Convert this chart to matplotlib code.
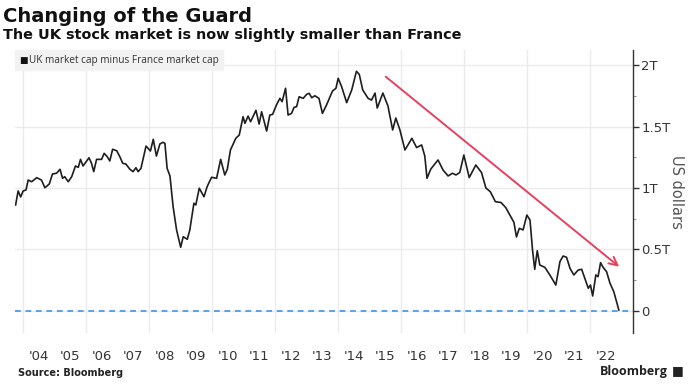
import matplotlib.pyplot as plt
from matplotlib.ticker import FixedLocator, FuncFormatter, MultipleLocator

# UK market cap minus France market cap, trillions of US dollars (decimal years)
years = [
    2003.76, 2003.84, 2003.92, 2004.00, 2004.09, 2004.16, 2004.27, 2004.43, 2004.58, 2004.69,
    2004.83, 2004.93, 2005.06, 2005.17, 2005.25, 2005.32, 2005.43, 2005.54, 2005.66, 2005.75,
    2005.82, 2005.90, 2006.09, 2006.17, 2006.24, 2006.33, 2006.49, 2006.57, 2006.67, 2006.75,
    2006.84, 2006.97, 2007.07, 2007.16, 2007.26, 2007.39, 2007.49, 2007.58, 2007.65, 2007.74,
    2007.90, 2008.04, 2008.13, 2008.23, 2008.34, 2008.44, 2008.50, 2008.57, 2008.66, 2008.76,
    2008.87, 2009.00, 2009.08, 2009.21, 2009.29, 2009.42, 2009.48, 2009.59, 2009.74, 2009.84,
    2009.98, 2010.14, 2010.27, 2010.40, 2010.48, 2010.58, 2010.75, 2010.86, 2010.98, 2011.04,
    2011.14, 2011.22, 2011.39, 2011.49, 2011.57, 2011.73, 2011.83, 2011.92, 2012.04, 2012.15,
    2012.22, 2012.33, 2012.41, 2012.52, 2012.60, 2012.68, 2012.76, 2012.89, 2013.00, 2013.08,
    2013.16, 2013.26, 2013.39, 2013.50, 2013.63, 2013.82, 2013.93, 2014.00, 2014.11, 2014.27,
    2014.43, 2014.58, 2014.67, 2014.78, 2014.95, 2015.06, 2015.17, 2015.24, 2015.42, 2015.58,
    2015.73, 2015.83, 2015.96, 2016.12, 2016.34, 2016.49, 2016.65, 2016.75, 2016.82, 2016.94,
    2017.17, 2017.33, 2017.49, 2017.63, 2017.74, 2017.86, 2017.99, 2018.16, 2018.37, 2018.55,
    2018.69, 2018.83, 2018.99, 2019.17, 2019.32, 2019.47, 2019.58, 2019.66, 2019.75, 2019.87,
    2019.99, 2020.09, 2020.17, 2020.24, 2020.32, 2020.40, 2020.56, 2020.72, 2020.91, 2021.04,
    2021.14, 2021.25, 2021.36, 2021.48, 2021.62, 2021.73, 2021.83, 2021.94, 2022.01, 2022.08,
    2022.18, 2022.25, 2022.33, 2022.41, 2022.52, 2022.63, 2022.75, 2022.91,
]
cap_gap = [
    0.862, 0.976, 0.927, 0.976, 0.984, 1.065, 1.051, 1.084, 1.065, 1.002,
    1.033, 1.114, 1.120, 1.152, 1.079, 1.092, 1.051, 1.092, 1.179, 1.168,
    1.233, 1.179, 1.246, 1.201, 1.133, 1.233, 1.233, 1.282, 1.254, 1.220,
    1.315, 1.303, 1.254, 1.201, 1.195, 1.152, 1.133, 1.165, 1.133, 1.160,
    1.341, 1.301, 1.396, 1.260, 1.358, 1.372, 1.363, 1.160, 1.098, 0.848,
    0.659, 0.518, 0.604, 0.583, 0.659, 0.876, 0.862, 0.998, 0.929, 1.011,
    1.087, 1.079, 1.233, 1.106, 1.152, 1.309, 1.404, 1.431, 1.580, 1.526,
    1.585, 1.539, 1.632, 1.520, 1.620, 1.463, 1.593, 1.599, 1.675, 1.729,
    1.702, 1.811, 1.593, 1.607, 1.656, 1.661, 1.742, 1.729, 1.762, 1.770,
    1.734, 1.750, 1.729, 1.607, 1.675, 1.789, 1.811, 1.892, 1.824, 1.694,
    1.797, 1.949, 1.924, 1.797, 1.729, 1.715, 1.772, 1.650, 1.772, 1.667,
    1.472, 1.569, 1.472, 1.309, 1.404, 1.329, 1.350, 1.260, 1.079, 1.154,
    1.228, 1.146, 1.098, 1.120, 1.106, 1.126, 1.268, 1.085, 1.187, 1.126,
    1.000, 0.970, 0.889, 0.882, 0.841, 0.772, 0.720, 0.602, 0.672, 0.659,
    0.780, 0.740, 0.496, 0.339, 0.490, 0.374, 0.355, 0.293, 0.211, 0.401,
    0.447, 0.437, 0.347, 0.293, 0.333, 0.339, 0.266, 0.185, 0.211, 0.122,
    0.293, 0.279, 0.393, 0.355, 0.320, 0.225, 0.157, 0.008,
]

# trend arrow (start, end) in data units
arrow_start = (2015.51, 1.905)
arrow_end = (2022.92, 0.360)

year_labels = ["'04", "'05", "'06", "'07", "'08", "'09", "'10", "'11", "'12", "'13",
               "'14", "'15", "'16", "'17", "'18", "'19", "'20", "'21", "'22"]
label_years = list(range(2004, 2023))
grid_years = list(range(2004, 2023, 2))
y_ticks = [0, 0.5, 1, 1.5, 2]


def fmt_trillions(v, pos):
    if v == 0:
        return "0"
    return f"{v:g}T"


fig = plt.figure(figsize=(7, 3.92), dpi=100)
ax = fig.add_axes([0.0214, 0.1505, 0.8829, 0.7219])

ax.plot(years, cap_gap, color='#1e1e1e', lw=1.2, zorder=3)
ax.axhline(0, color='#4f9be6', lw=1.3, ls=(0, (3.2, 2.6)), zorder=2)
ax.annotate('', xy=arrow_end, xytext=arrow_start,
            arrowprops=dict(arrowstyle='->,head_length=0.6,head_width=0.3',
                            color='#e8405f', lw=1.4, shrinkA=0, shrinkB=0),
            zorder=4)

ax.set_xlim(2003.74, 2023.36)
ax.set_ylim(-0.179, 2.122)

# x axis: labels at mid-year, grid every two years
ax.xaxis.set_major_locator(FixedLocator([y + 0.5 for y in label_years]))
ax.set_xticklabels(year_labels)
ax.xaxis.set_minor_locator(FixedLocator(grid_years))
ax.tick_params(axis='x', which='both', length=0, labelsize=9.5,
               labelcolor='#333333', pad=12)
ax.grid(axis='x', which='minor', color='#ebebeb', lw=1)

# y axis on the right
ax.yaxis.tick_right()
ax.yaxis.set_label_position('right')
ax.yaxis.set_major_locator(FixedLocator(y_ticks))
ax.yaxis.set_minor_locator(MultipleLocator(0.25))
ax.yaxis.set_major_formatter(FuncFormatter(fmt_trillions))
ax.tick_params(axis='y', which='major', length=4, width=1, color='#333333',
               labelsize=9.5, labelcolor='#333333', pad=2)
ax.tick_params(axis='y', which='minor', length=2, width=0.8, color='#999999')
ax.grid(axis='y', which='major', color='#ebebeb', lw=1)
ax.set_ylabel('US dollars', rotation=270, labelpad=10, fontsize=10.5,
              color='#555555')

for side in ['top', 'left', 'bottom']:
    ax.spines[side].set_visible(False)
ax.spines['right'].set_color('#333333')
ax.spines['right'].set_linewidth(1)
ax.set_axisbelow(True)

# legend box
fig.patches.append(plt.Rectangle((15 / 700, 1 - 70 / 392), 208 / 700, 20 / 392,
                                 transform=fig.transFigure, color='#f2f2f2',
                                 zorder=5))
fig.text(19 / 700, 1 - 60 / 392, '\u25a0', fontsize=6.5, color='#111111',
         va='center', ha='left', zorder=6)
fig.text(29 / 700, 1 - 60 / 392, 'UK market cap minus France market cap',
         fontsize=7.2, color='#333333', va='center', ha='left',
         family='Open Sans', zorder=6)

# titles and footer
fig.text(3 / 700, 1 - 17 / 392, 'Changing of the Guard', fontsize=14,
         fontweight='bold', color='#111111', va='center', ha='left')
fig.text(3 / 700, 1 - 35 / 392,
         'The UK stock market is now slightly smaller than France',
         fontsize=10.4, fontweight='bold', color='#111111', va='center', ha='left')
fig.text(18 / 700, 1 - 373 / 392, 'Source: Bloomberg', fontsize=7,
         fontweight='bold', color='#222222', va='center', ha='left')
fig.text(668 / 700, 1 - 371 / 392, 'Bloomberg', fontsize=9,
         fontweight='bold', color='#222222', va='center', ha='right',
         family='Open Sans')
fig.text(672 / 700, 1 - 371 / 392, '\u25a0', fontsize=9, color='#222222',
         va='center', ha='left')

fig.savefig('out.png', dpi=100)
